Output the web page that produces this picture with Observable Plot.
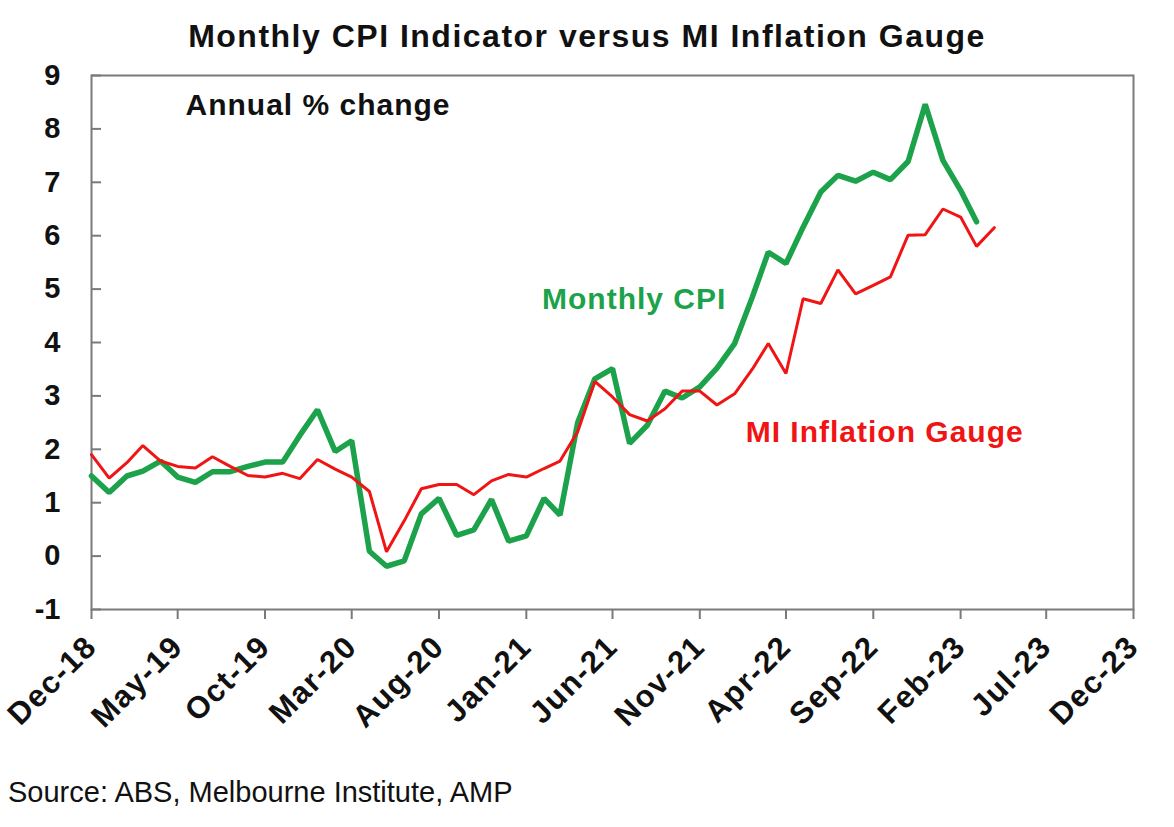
<!DOCTYPE html>
<html><head><meta charset="utf-8">
<script src="https://cdn.jsdelivr.net/npm/d3@7"></script>
<script src="https://cdn.jsdelivr.net/npm/@observablehq/plot@0.6"></script>
<style>
body{margin:0;background:#fff;font-family:"Liberation Sans",Arial,sans-serif;}
#title{height:60px;box-sizing:border-box;padding-top:21px;line-height:30px;font-size:32px;letter-spacing:1.5px;font-weight:bold;text-align:center;color:#111;}
#chart svg{display:block;}
#caption{padding-top:18px;line-height:28px;font-size:29px;padding-left:8px;color:#111;}
</style></head><body>
<div id="title">Monthly CPI Indicator versus MI Inflation Gauge</div>
<div id="chart"></div>
<div id="caption">Source: ABS, Melbourne Institute, AMP</div>
<script>
const firstMonth = "Dec-18";
const cpi = [1.50,1.19,1.50,1.59,1.78,1.48,1.38,1.58,1.58,1.68,1.76,1.76,
  2.26,2.74,1.96,2.16,0.09,-0.19,-0.09,0.79,1.08,0.39,0.49,1.06,
  0.28,0.38,1.08,0.77,2.50,3.32,3.51,2.11,2.45,3.09,2.96,3.17,
  3.52,3.98,4.85,5.69,5.48,6.16,6.82,7.13,7.02,7.19,7.05,7.39,
  8.46,7.41,6.85,6.26];
const mi = [1.90,1.46,1.75,2.07,1.78,1.68,1.65,1.86,1.68,1.51,1.48,1.55,
  1.45,1.81,1.63,1.48,1.21,0.08,0.66,1.26,1.34,1.34,1.15,1.41,
  1.53,1.48,1.64,1.78,2.33,3.27,2.98,2.65,2.53,2.76,3.09,3.09,
  2.83,3.04,3.50,3.98,3.42,4.82,4.73,5.36,4.91,5.07,5.23,6.01,
  6.02,6.50,6.35,5.80,6.15];
const xTickLabels = ["Dec-18","May-19","Oct-19","Mar-20","Aug-20","Jan-21","Jun-21","Nov-21","Apr-22","Sep-22","Feb-23","Jul-23","Dec-23"];
const yTicks = [-1,0,1,2,3,4,5,6,7,8,9];
const seriesLabels = [
  {text:"Monthly CPI", month:"Jul-21", value:4.8, series:"cpi"},
  {text:"MI Inflation Gauge", month:"Sep-22", value:2.32, series:"mi"}
];
const colors = {cpi:"#1ca24a", mi:"#f01414"};

const parse = d3.utcParse("%b-%y");
const fmt = d3.utcFormat("%b-%y");
const start = parse(firstMonth);
const cpiRows = cpi.map((v,i)=>({date:d3.utcMonth.offset(start,i), value:v}));
const miRows = mi.map((v,i)=>({date:d3.utcMonth.offset(start,i), value:v}));
const xTickDates = xTickLabels.map(parse);
const labelRows = seriesLabels.map(d=>({...d, date:d3.utcDay.offset(parse(d.month), d.series==="mi" ? 20 : 8)}));

const chart = Plot.plot({
  width:1174, height:700,
  marginTop:15, marginLeft:91, marginRight:41, marginBottom:151,
  style:{fontFamily:"'Liberation Sans', Arial, sans-serif", fontSize:"28px", fontWeight:"bold", color:"#111", background:"white", overflow:"visible"},
  x:{type:"utc", domain:[xTickDates[0], xTickDates[xTickDates.length-1]]},
  y:{domain:[-1,9]},
  marks:[
    Plot.frame({stroke:"#7a7a7a", strokeWidth:2}),
    Plot.axisY({ticks:yTicks, tickSize:0, tickPadding:31, fill:"#111", fontSize:29, fontWeight:"bold", label:null, tickFormat:d=>String(d)}),
    Plot.axisY({ticks:yTicks, tickSize:-10, stroke:"#7a7a7a", strokeWidth:2, label:null, tickFormat:()=>""}),
    Plot.axisX({ticks:xTickDates, tickSize:10, tickPadding:22, tickRotate:-45, stroke:"#7a7a7a", strokeWidth:2, fill:"#111", fontSize:31, fontWeight:"bold", label:null, tickFormat:fmt}),
    Plot.lineY(cpiRows, {x:"date", y:"value", stroke:colors.cpi, strokeWidth:5.5, strokeLinejoin:"miter"}),
    Plot.lineY(miRows, {x:"date", y:"value", stroke:colors.mi, strokeWidth:3, strokeLinejoin:"miter"}),
    Plot.text(labelRows, {x:"date", y:"value", text:"text", fill:d=>colors[d.series], fontSize:30, fontWeight:"bold"}),
    Plot.text(["Annual % change"], {frameAnchor:"top-left", dx:94, dy:18, textAnchor:"start", fontSize:30, fontWeight:"bold", fill:"#111"})
  ]
});
d3.select(chart).selectAll("g[aria-label='x-axis tick label'] text").style("letter-spacing","1.5px");
d3.select(chart).selectAll("g[aria-label='text'] text").style("letter-spacing","1px");
document.getElementById("chart").appendChild(chart);
</script></body></html>
